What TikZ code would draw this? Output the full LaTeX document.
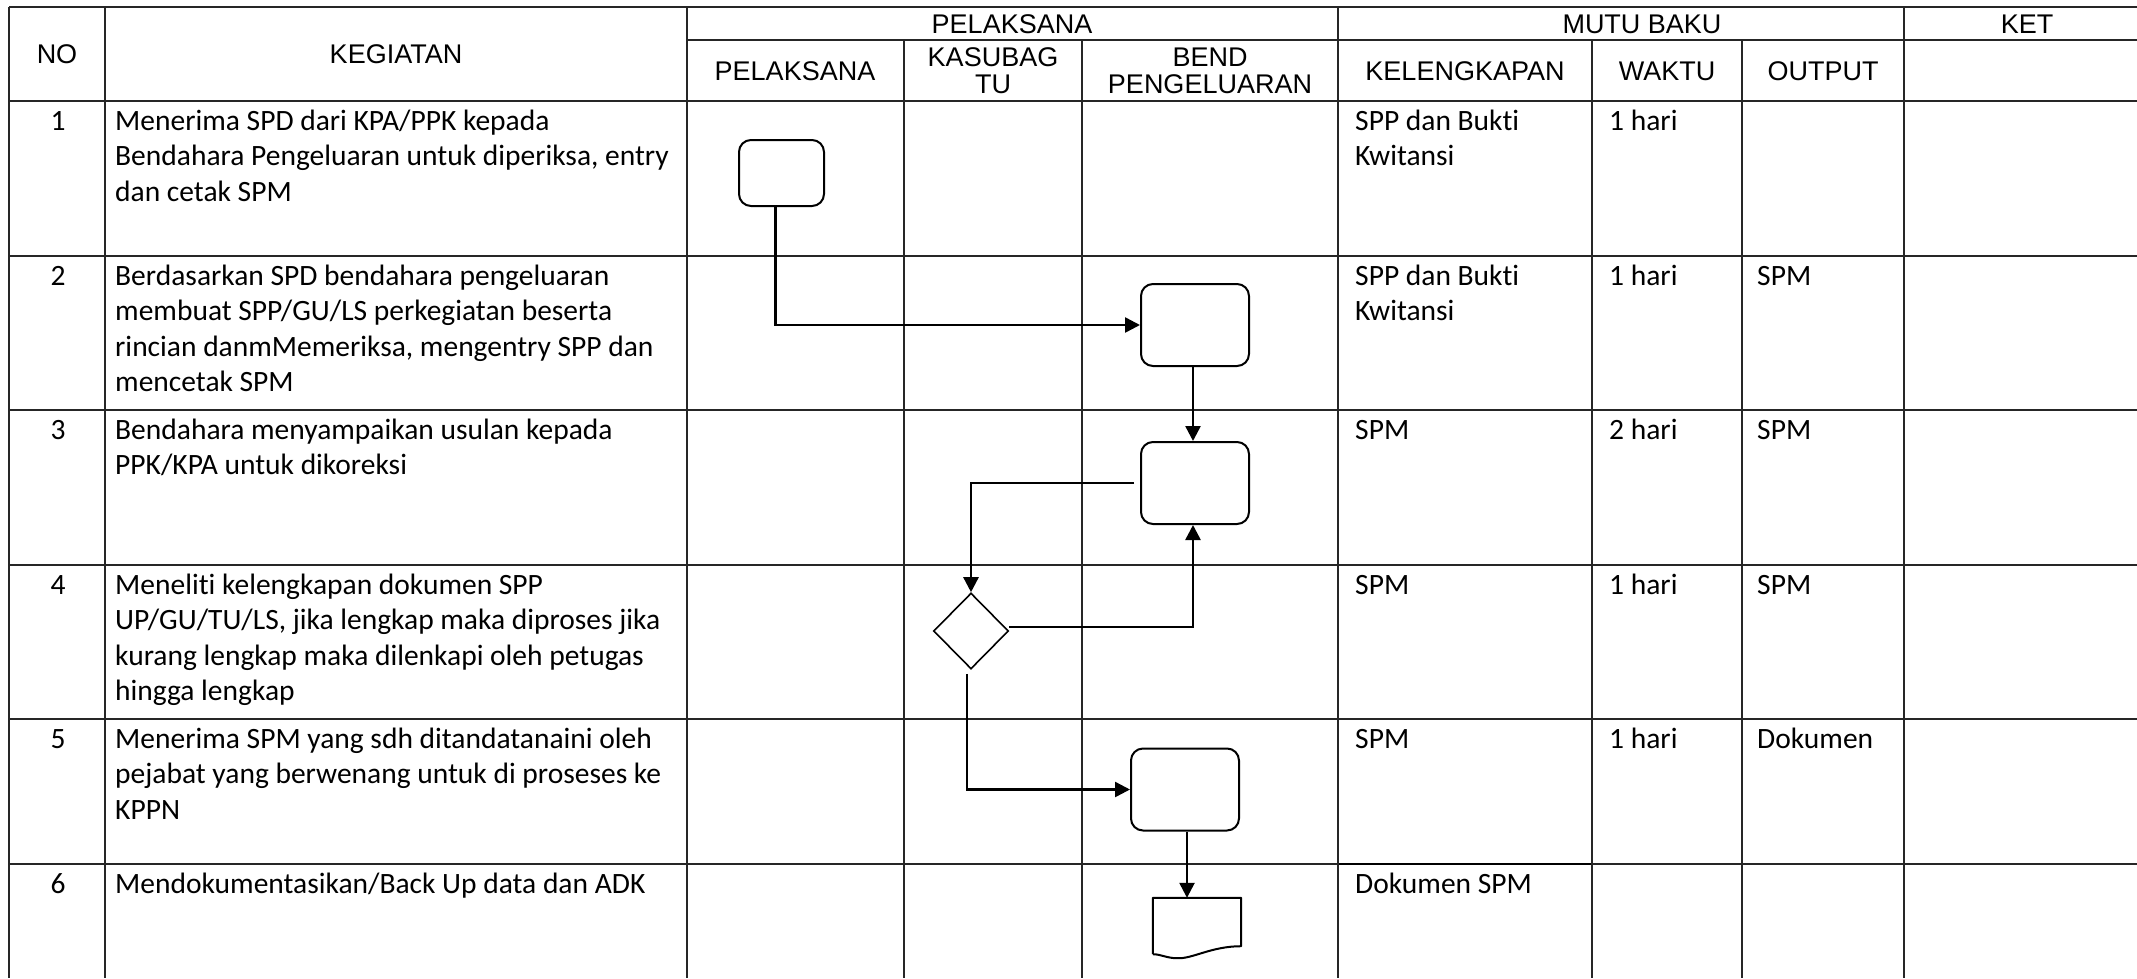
\documentclass[tikz,border=0pt]{standalone}
\usepackage{fontspec}
\setmainfont{Carlito}[Ligatures=NoCommon]
\newfontfamily\hdrfont{Liberation Sans}
\usetikzlibrary{arrows.meta,shapes.geometric}
\newcommand{\cell}[1]{\parbox[t]{700pt}{\raggedright #1}}
\begin{document}
\begin{tikzpicture}[x=1pt,y=-1pt,
  grid/.style={line width=1.5pt, black!85},
  gridk/.style={line width=2.2pt, black},
  proc/.style={draw, rounded corners=12pt, line width=2pt, minimum width=108pt, minimum height=82pt, inner sep=0pt},
  dia/.style={draw, diamond, line width=1.6pt, minimum width=75pt, minimum height=76pt, inner sep=0pt},
  docnode/.style={draw=none, minimum width=88pt, minimum height=56pt, inner sep=0pt},
  flow/.style={line width=2.5pt, -{Triangle[length=15pt,width=15pt]}},
  hdr/.style={font=\hdrfont\fontsize{27}{27}\selectfont, align=center, inner sep=0pt},
  body/.style={anchor=base west, inner sep=0pt, font=\fontsize{29.5}{35.5}\selectfont},
  num/.style={anchor=base, inner sep=0pt, font=\fontsize{29.5}{35.5}\selectfont},
]
\useasboundingbox (0,0) rectangle (2137,978);

% ---- table grid ----
\draw[grid] (9,7) -- (2137,7);
\draw[grid] (687,40) -- (2137,40);
\draw[grid] (9,101) -- (2137,101);
\foreach \yy in {256,410,565,719,864} {\draw[grid] (9,\yy) -- (2137,\yy);}
\draw[gridk] (1338,864) -- (1592,864);
\foreach \xx in {9,105,687,1338,1904} {\draw[grid] (\xx,7) -- (\xx,978);}
\foreach \xx in {904,1082,1592,1742} {\draw[grid] (\xx,40) -- (\xx,978);}

% ---- header ----
\node[hdr] (hno) at (57,54) {NO};
\node[hdr] (hkeg) at (396,54) {KEGIATAN};
\node[hdr] (hpel) at (1012,24) {PELAKSANA};
\node[hdr] (hmutu) at (1642,24) {MUTU BAKU};
\node[hdr] (hket) at (2027,24) {KET};
\node[hdr] (hpel2) at (795,71) {PELAKSANA};
\node[hdr] (hkas) at (993,70.5) {KASUBAG\\TU};
\node[hdr] (hbend) at (1210,70.5) {BEND\\PENGELUARAN};
\node[hdr] (hkel) at (1465,71) {KELENGKAPAN};
\node[hdr] (hwak) at (1667,71) {WAKTU};
\node[hdr] (hout) at (1823,71) {OUTPUT};

% ---- rows ----
\node[num] (n1) at (58,130) {1};
\node[num] (n2) at (58,285) {2};
\node[num] (n3) at (58,439) {3};
\node[num] (n4) at (58,594) {4};
\node[num] (n5) at (58,748) {5};
\node[num] (n6) at (58,893) {6};

\node[body] (k1) at (115,130) {\cell{Menerima SPD dari KPA/PPK kepada\\Bendahara Pengeluaran untuk diperiksa, entry\\dan cetak SPM}};
\node[body] (k2) at (115,285) {\cell{Berdasarkan SPD bendahara pengeluaran\\membuat SPP/GU/LS perkegiatan beserta\\rincian danmMemeriksa, mengentry SPP dan\\mencetak SPM}};
\node[body] (k3) at (115,439) {\cell{Bendahara menyampaikan usulan kepada\\PPK/KPA untuk dikoreksi}};
\node[body] (k4) at (115,594) {\cell{Meneliti kelengkapan dokumen SPP\\UP/GU/TU/LS, jika lengkap maka diproses jika\\kurang lengkap maka dilenkapi oleh petugas\\hingga lengkap}};
\node[body] (k5) at (115,748) {\cell{Menerima SPM yang sdh ditandatanaini oleh\\pejabat yang berwenang untuk di proseses ke\\KPPN}};
\node[body] (k6) at (115,893) {\cell{Mendokumentasikan/Back Up data dan ADK}};

\node[body] (l1) at (1355,130) {\cell{SPP dan Bukti\\Kwitansi}};
\node[body] (l2) at (1355,285) {\cell{SPP dan Bukti\\Kwitansi}};
\node[body] (l3) at (1355,439) {SPM};
\node[body] (l4) at (1355,594) {SPM};
\node[body] (l5) at (1355,748) {SPM};
\node[body] (l6) at (1355,893) {Dokumen SPM};

\node[body] (w1) at (1609,130) {1 hari};
\node[body] (w2) at (1609,285) {1 hari};
\node[body] (w3) at (1609,439) {2 hari};
\node[body] (w4) at (1609,594) {1 hari};
\node[body] (w5) at (1609,748) {1 hari};

\node[body] (o2) at (1757,285) {SPM};
\node[body] (o3) at (1757,439) {SPM};
\node[body] (o4) at (1757,594) {SPM};
\node[body] (o5) at (1757,748) {Dokumen};

% ---- flowchart ----
\node[proc, minimum width=85pt, minimum height=66pt] (b1) at (781.5,173) {};
\node[proc] (b2) at (1195,325) {};
\node[proc] (b3) at (1195,483) {};
\node[dia] (d) at (971,631) {};
\node[proc] (b5) at (1185,789.5) {};
\node[docnode] (doc) at (1197,926) {};
\draw[line width=2pt, line join=round] (doc.south west) -- (doc.north west) -- (doc.north east) -- ([yshift=8pt]doc.south east)
  .. controls ([xshift=-30pt,yshift=8pt]doc.south east) and ([xshift=-5pt,yshift=-5pt]doc.south) .. ([xshift=-20pt,yshift=-4pt]doc.south)
  .. controls ([xshift=-30pt,yshift=-4pt]doc.south) and ([xshift=8pt]doc.south west) .. (doc.south west);

\draw[flow] ([xshift=-6pt]b1.south) |- (b2.west);
\draw[flow] ([xshift=-2pt]b2.south) -- ([xshift=-2pt]b3.north);
\draw[flow] ([xshift=-6pt]b3.west) -| (d.north);
\draw[flow] ([yshift=4pt]d.east) -| ([xshift=-2pt]b3.south);
\draw[flow] ([xshift=-4pt,yshift=-4pt]d.south) |- (b5.west);
\draw[flow] ([xshift=2pt]b5.south) -- ([xshift=2pt]b5.south |- doc.north);
\end{tikzpicture}
\end{document}
